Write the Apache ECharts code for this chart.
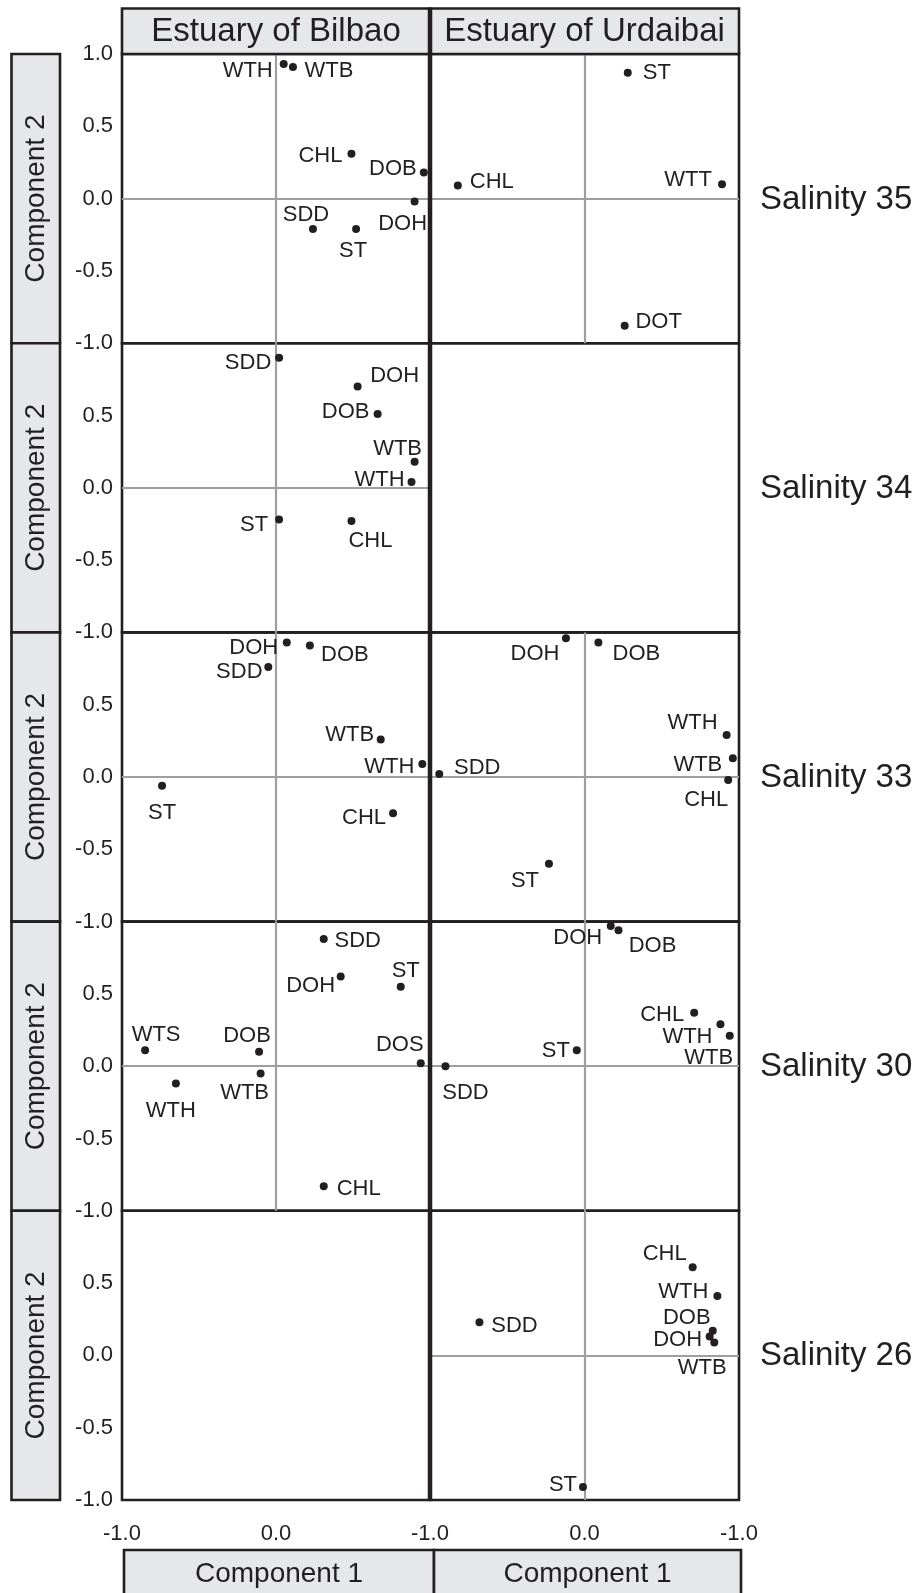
<!DOCTYPE html>
<html>
<head>
<meta charset="utf-8">
<script src="https://cdn.jsdelivr.net/npm/echarts@6/dist/echarts.min.js"></script>
<style>
html,body{margin:0;padding:0;background:#fff;}
#chart{width:917px;height:1593px;}
</style>
</head>
<body>
<div id="chart"></div>
<script>
// ---------- text ----------
const estuaries = ['Estuary of Bilbao', 'Estuary of Urdaibai'];
const salinities = ['Salinity 35', 'Salinity 34', 'Salinity 33', 'Salinity 30', 'Salinity 26'];
const xAxisTitle = 'Component 1';
const yAxisTitle = 'Component 2';
const xTickLabels = ['-1.0', '0.0', '-1.0'];
const yTickLabels = ['-1.0', '-0.5', '0.0', '0.5', '1.0'];

// ---------- data (component 1, component 2) ----------
const bilbao35Names = ['WTH', 'WTB', 'CHL', 'DOB', 'DOH', 'SDD', 'ST'];
const bilbao35C1 = [0.05, 0.11, 0.49, 0.96, 0.90, 0.24, 0.52];
const bilbao35C2 = [0.93, 0.91, 0.31, 0.18, -0.02, -0.21, -0.21];

const urdaibai35Names = ['ST', 'CHL', 'WTT', 'DOT'];
const urdaibai35C1 = [0.28, -0.82, 0.89, 0.26];
const urdaibai35C2 = [0.87, 0.09, 0.10, -0.88];

const bilbao34Names = ['SDD', 'DOH', 'DOB', 'WTB', 'WTH', 'ST', 'CHL'];
const bilbao34C1 = [0.02, 0.53, 0.66, 0.90, 0.88, 0.02, 0.49];
const bilbao34C2 = [0.90, 0.70, 0.51, 0.18, 0.04, -0.22, -0.23];

const urdaibai34Names = [];
const urdaibai34C1 = [];
const urdaibai34C2 = [];

const bilbao33Names = ['DOH', 'DOB', 'SDD', 'WTB', 'WTH', 'ST', 'CHL'];
const bilbao33C1 = [0.07, 0.22, -0.05, 0.68, 0.95, -0.74, 0.76];
const bilbao33C2 = [0.93, 0.91, 0.76, 0.26, 0.09, -0.06, -0.25];

const urdaibai33Names = ['DOH', 'DOB', 'WTH', 'WTB', 'CHL', 'SDD', 'ST'];
const urdaibai33C1 = [-0.12, 0.09, 0.92, 0.96, 0.93, -0.94, -0.23];
const urdaibai33C2 = [0.96, 0.93, 0.29, 0.13, -0.02, 0.02, -0.60];

const bilbao30Names = ['SDD', 'DOH', 'ST', 'WTS', 'DOB', 'DOS', 'WTB', 'WTH', 'CHL'];
const bilbao30C1 = [0.31, 0.42, 0.81, -0.85, -0.11, 0.94, -0.10, -0.65, 0.31];
const bilbao30C2 = [0.88, 0.62, 0.55, 0.11, 0.10, 0.02, -0.05, -0.12, -0.83];

const urdaibai30Names = ['DOH', 'DOB', 'CHL', 'WTH', 'WTB', 'ST', 'SDD'];
const urdaibai30C1 = [0.17, 0.22, 0.71, 0.88, 0.94, -0.05, -0.90];
const urdaibai30C2 = [0.97, 0.94, 0.37, 0.29, 0.21, 0.11, 0.00];

const bilbao26Names = [];
const bilbao26C1 = [];
const bilbao26C2 = [];

const urdaibai26Names = ['CHL', 'WTH', 'DOB', 'DOH', 'WTB', 'SDD', 'ST'];
const urdaibai26C1 = [0.70, 0.86, 0.83, 0.81, 0.84, -0.68, -0.01];
const urdaibai26C2 = [0.61, 0.41, 0.17, 0.13, 0.09, 0.23, -0.91];

// ---------- label placement (pixel offsets of label centre from its dot) ----------
const labelOffsets = {
  bilbao35: [[-36, 7], [36, 4], [-31, 2], [-31, -4], [-12, 22], [-7, -14], [-3, 22]],
  urdaibai35: [[29, 0], [34, -4], [-34, -4], [34, -4]],
  bilbao34: [[-31, 5], [37, -11], [-32, -2], [-17, -13], [-32, -2], [-25, 5], [19, 20]],
  urdaibai34: [],
  bilbao33: [[-33, 5], [35, 10], [-29, 5], [-31, -4], [-33, 3], [0, 27], [-29, 5]],
  urdaibai33: [[-31, 16], [38, 11], [-34, -12], [-35, 7], [-22, 20], [38, -6], [-24, 17]],
  bilbao30: [[34, 2], [-30, 9], [5, -16], [11, -15], [-12, -16], [-21, -18], [-16, 20], [-5, 27], [35, 3]],
  urdaibai30: [[-33, 12], [34, 16], [-32, 2], [-33, 13], [-21, 22], [-21, 1], [20, 27]],
  bilbao26: [],
  urdaibai26: [[-28, -13], [-34, -4], [-26, -13], [-32, 3], [-12, 26], [35, 4], [-20, -2]]
};

const panelData = [
  ['bilbao35', bilbao35Names, bilbao35C1, bilbao35C2],
  ['urdaibai35', urdaibai35Names, urdaibai35C1, urdaibai35C2],
  ['bilbao34', bilbao34Names, bilbao34C1, bilbao34C2],
  ['urdaibai34', urdaibai34Names, urdaibai34C1, urdaibai34C2],
  ['bilbao33', bilbao33Names, bilbao33C1, bilbao33C2],
  ['urdaibai33', urdaibai33Names, urdaibai33C1, urdaibai33C2],
  ['bilbao30', bilbao30Names, bilbao30C1, bilbao30C2],
  ['urdaibai30', urdaibai30Names, urdaibai30C1, urdaibai30C2],
  ['bilbao26', bilbao26Names, bilbao26C1, bilbao26C2],
  ['urdaibai26', urdaibai26Names, urdaibai26C1, urdaibai26C2]
];

// ---------- layout ----------
const FONT = '"Liberation Sans", Arial, Helvetica, sans-serif';
const INK = '#231f20';
const BOX = '#e6e7e8';
const ZERO = '#9d9fa2';
const colLeft = [122, 430];
const colWidth = [308, 309];
const rowTop0 = 54;
const rowH = 289.2;

const grids = [], xAxes = [], yAxes = [], series = [];
panelData.forEach((p, idx) => {
  const row = Math.floor(idx / 2), col = idx % 2;
  grids.push({
    left: colLeft[col], top: rowTop0 + row * rowH, width: colWidth[col], height: rowH,
    show: true, borderColor: INK, borderWidth: 2.6, backgroundColor: 'transparent', containLabel: false
  });
  xAxes.push({
    type: 'value', gridIndex: idx, min: -1, max: 1, interval: 1,
    axisLine: { show: false }, axisTick: { show: false }, splitLine: { show: false },
    axisLabel: {
      show: row === 4, margin: 23, fontSize: 22, fontFamily: FONT, color: INK,
      formatter: v => {
        const i = Math.round(v + 1);
        if (col === 1 && i === 0) return '';
        return xTickLabels[i];
      }
    }
  });
  yAxes.push({
    type: 'value', gridIndex: idx, min: -1, max: 1, interval: 0.5,
    axisLine: { show: false }, axisTick: { show: false }, splitLine: { show: false },
    axisLabel: {
      show: col === 0, margin: 9, fontSize: 22, fontFamily: FONT, color: INK,
      formatter: v => {
        const i = Math.round((v + 1) / 0.5);
        if (row > 0 && i === 4) return '';
        return yTickLabels[i];
      }
    }
  });
  const [key, names, c1, c2] = p;
  if (names.length) {
    const offs = labelOffsets[key];
    series.push({
      type: 'scatter', xAxisIndex: idx, yAxisIndex: idx, z: 3,
      symbol: 'circle', symbolSize: 8,
      itemStyle: { color: INK, opacity: 1 },
      label: {
        show: true, position: 'inside', formatter: '{b}',
        fontSize: 22, fontFamily: FONT, color: INK, opacity: 1
      },
      emphasis: { disabled: true },
      data: names.map((n, i) => ({ name: n, value: [c1[i], c2[i]], label: { offset: offs[i] } })),
      markLine: {
        silent: true, symbol: ['none', 'none'], z: 1, animation: false,
        label: { show: false },
        lineStyle: { color: ZERO, width: 2.2, type: 'solid', opacity: 1 },
        emphasis: { disabled: true },
        data: [{ xAxis: 0 }, { yAxis: 0 }]
      }
    });
  }
});

// ---------- decoration boxes and titles ----------
const graphic = [];
const headerTop = 8.5, headerH = 45.5;
estuaries.forEach((t, c) => {
  graphic.push({
    type: 'rect', shape: { x: colLeft[c], y: headerTop, width: colWidth[c], height: headerH },
    style: { fill: BOX, stroke: INK, lineWidth: 2.6 }, z: 10
  });
  graphic.push({
    type: 'text', x: colLeft[c] + colWidth[c] / 2, y: headerTop + headerH / 2 + 1, z: 11,
    style: { text: t, fontSize: 33, fontFamily: FONT, fill: INK, align: 'center', verticalAlign: 'middle' }
  });
  const bl = c === 0 ? 124 : 434, bw = c === 0 ? 310 : 307;
  graphic.push({
    type: 'rect', shape: { x: bl, y: 1550, width: bw, height: 60 },
    style: { fill: BOX, stroke: INK, lineWidth: 2.6 }, z: 10
  });
  graphic.push({
    type: 'text', x: bl + bw / 2, y: 1574, z: 11,
    style: { text: xAxisTitle, fontSize: 28, fontFamily: FONT, fill: INK, align: 'center', verticalAlign: 'middle' }
  });
});
salinities.forEach((s, r) => {
  const top = rowTop0 + r * rowH;
  graphic.push({
    type: 'rect', shape: { x: 11.5, y: top, width: 48.5, height: rowH },
    style: { fill: BOX, stroke: INK, lineWidth: 2.6 }, z: 10
  });
  graphic.push({
    type: 'text', x: 36.5, y: top + rowH / 2, rotation: Math.PI / 2, z: 11,
    style: { text: yAxisTitle, fontSize: 28, fontFamily: FONT, fill: INK, align: 'center', verticalAlign: 'middle' }
  });
  graphic.push({
    type: 'text', x: 760, y: top + rowH / 2 + 1, z: 11,
    style: { text: s, fontSize: 33, fontFamily: FONT, fill: INK, align: 'left', verticalAlign: 'middle' }
  });
});
graphic.push({
  type: 'line', shape: { x1: 430, y1: headerTop, x2: 430, y2: rowTop0 + 5 * rowH },
  style: { stroke: INK, lineWidth: 4.5 }, z: 12
});

const chart = echarts.init(document.getElementById('chart'), null, { renderer: 'canvas' });
chart.setOption({
  backgroundColor: '#ffffff',
  animation: false,
  textStyle: { fontFamily: FONT },
  grid: grids,
  xAxis: xAxes,
  yAxis: yAxes,
  series: series,
  graphic: graphic
});
</script>
</body>
</html>
